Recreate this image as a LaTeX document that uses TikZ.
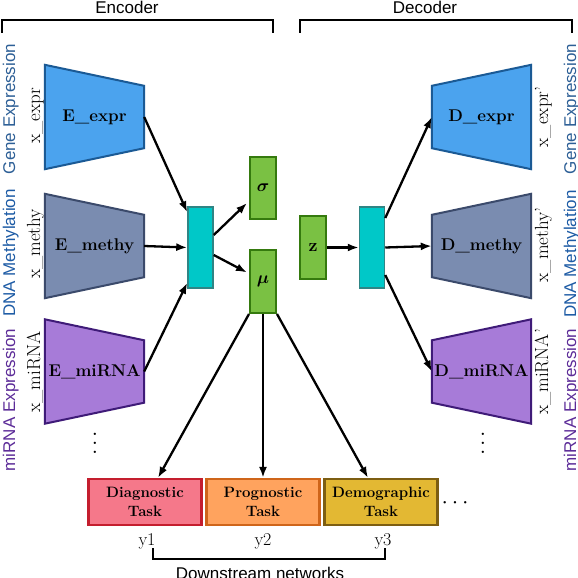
\documentclass[tikz,border=0pt]{standalone}
\usepackage{amsmath,amssymb}
\usepackage{fontspec}
\newfontfamily\labelsans{Liberation Sans}
\usetikzlibrary{arrows.meta,positioning,calc,backgrounds}

\definecolor{exprfill}{HTML}{4BA3EE}
\definecolor{exprdraw}{HTML}{1B5A95}
\definecolor{methyfill}{HTML}{7A8CB0}
\definecolor{methydraw}{HTML}{3B4A6B}
\definecolor{mirnafill}{HTML}{A77BD8}
\definecolor{mirnadraw}{HTML}{3F1B78}
\definecolor{midfill}{HTML}{00C8C8}
\definecolor{middraw}{HTML}{2F8585}
\definecolor{latfill}{HTML}{7AC143}
\definecolor{latdraw}{HTML}{357A0E}
\definecolor{diagfill}{HTML}{F5788A}
\definecolor{diagdraw}{HTML}{C41E2E}
\definecolor{progfill}{HTML}{FFA35E}
\definecolor{progdraw}{HTML}{CF651A}
\definecolor{demofill}{HTML}{E3B833}
\definecolor{demodraw}{HTML}{7D5E12}
\definecolor{genecol}{HTML}{2D5F96}
\definecolor{methycol}{HTML}{1D5BA5}
\definecolor{mirnacol}{HTML}{5C2C98}

\tikzset{
  trap/.style={minimum width=99pt, minimum height=104pt, inner sep=0pt,
    font=\fontsize{17}{20}\selectfont\bfseries},
  mid/.style={draw=middraw, fill=midfill, line width=1.5pt,
    minimum width=25pt, minimum height=81pt, inner sep=0pt},
  lat/.style={draw=latdraw, fill=latfill, line width=2pt,
    minimum width=26pt, minimum height=62pt, inner sep=0pt,
    font=\fontsize{18}{20}\selectfont},
  task/.style={line width=2.2pt, minimum width=113pt, minimum height=46pt,
    inner sep=0pt, align=center, font=\fontsize{15}{19}\selectfont\bfseries},
  side/.style={rotate=90, anchor=base, font=\labelsans\fontsize{17}{20}\selectfont},
  xlab/.style={rotate=90, anchor=base, font=\fontsize{19}{22}\selectfont},
  arr/.style={-{Latex[length=11pt,width=8pt]}, line width=2.3pt},
  bracket/.style={line width=2.2pt},
}

% left-long and right-long trapezia around a node
\newcommand{\enctrap}[2]{%
  \draw[#2, line width=2pt] (#1.north west) -- ([yshift=-21pt]#1.north east)
    -- ([yshift=21pt]#1.south east) -- (#1.south west) -- cycle;}
\newcommand{\dectrap}[2]{%
  \draw[#2, line width=2pt] (#1.north east) -- ([yshift=-21pt]#1.north west)
    -- ([yshift=21pt]#1.south west) -- (#1.south east) -- cycle;}

\begin{document}
\begin{tikzpicture}[x=1pt, y=-1pt]
  \useasboundingbox (0,0) rectangle (578,578);

  % Brackets on top
  \coordinate (encl) at (2,33);
  \coordinate (encr) at (273,33);
  \coordinate (decl) at (300,33);
  \coordinate (decr) at (572,33);
  \draw[bracket] (encl) -- (encl|-0,20) -- (encr|-0,20) -- (encr);
  \draw[bracket] (decl) -- (decl|-0,20) -- (decr|-0,20) -- (decr);
  \node[anchor=base, font=\labelsans\fontsize{17}{20}\selectfont] (enctxt) at (127,14) {Encoder};
  \node[anchor=base, font=\labelsans\fontsize{17}{20}\selectfont] (dectxt) at (425,14) {Decoder};

  % Encoder inputs
  \node[trap] (Eexpr) at (94.5,117) {E\_expr};
  \node[trap] (Emethy) at (94.5,246) {E\_methy};
  \node[trap] (Emirna) at (94.5,371.5) {E\_miRNA};
  \begin{pgfonlayer}{background}
    \enctrap{Eexpr}{draw=exprdraw, fill=exprfill}
    \enctrap{Emethy}{draw=methydraw, fill=methyfill}
    \enctrap{Emirna}{draw=mirnadraw, fill=mirnafill}
  \end{pgfonlayer}
  \node[xlab] (xexpr) at (40,116) {x\_expr};
  \node[xlab] (xmethy) at (40,244) {x\_methy};
  \node[xlab] (xmirna) at (40,372) {x\_miRNA};
  \node[side, text=genecol] (geneL) at (15,109) {Gene Expression};
  \node[side, text=methycol] (methyL) at (15,253) {DNA Methylation};
  \node[side, text=mirnacol] (mirnaL) at (15,400) {miRNA Expression};
  \node[scale=2.2] (vdotL) at (95,437) {$\vdots$};

  % Latent part
  \node[mid] (encmid) at (200.5,247.5) {};
  \node[lat] (sigma) at (263,188) {$\boldsymbol{\sigma}$};
  \node[lat, minimum height=63pt] (mu) at (263,281.5) {$\boldsymbol{\mu}$};
  \node[lat, minimum height=63pt] (z) at (313,247.5) {\textbf{z}};
  \node[mid] (decmid) at (372,247.5) {};

  % Decoder outputs
  \node[trap] (Dexpr) at (481.5,117) {D\_expr};
  \node[trap] (Dmethy) at (481.5,246) {D\_methy};
  \node[trap] (Dmirna) at (481.5,371.5) {D\_miRNA};
  \begin{pgfonlayer}{background}
    \dectrap{Dexpr}{draw=exprdraw, fill=exprfill}
    \dectrap{Dmethy}{draw=methydraw, fill=methyfill}
    \dectrap{Dmirna}{draw=mirnadraw, fill=mirnafill}
  \end{pgfonlayer}
  \node[xlab] (xexprR) at (548,117) {x\_expr'};
  \node[xlab] (xmethyR) at (548,245) {x\_methy'};
  \node[xlab] (xmirnaR) at (548,372) {x\_miRNA'};
  \node[side, text=genecol] (geneR) at (576,109) {Gene Expression};
  \node[side, text=methycol] (methyR) at (576,254) {DNA Methylation};
  \node[side, text=mirnacol] (mirnaR) at (576,400) {miRNA Expression};
  \node[scale=2.2] (vdotR) at (483,437) {$\vdots$};

  % Tasks
  \node[task, draw=diagdraw, fill=diagfill] (diag) at (145,502) {Diagnostic\\Task};
  \node[task, draw=progdraw, fill=progfill] (prog) at (263,502) {Prognostic\\Task};
  \node[task, draw=demodraw, fill=demofill] (demo) at (381,502) {Demographic\\Task};
  \node[scale=1.6, font=\fontsize{14}{16}\selectfont] (hdots) at (457,503) {$\cdots$};
  \node[anchor=base, font=\fontsize{18}{20}\selectfont] (y1) at (147,545) {y1};
  \node[anchor=base, font=\fontsize{18}{20}\selectfont] (y2) at (263,545) {y2};
  \node[anchor=base, font=\fontsize{18}{20}\selectfont] (y3) at (383,545) {y3};
  \coordinate (dsl) at (153,548);
  \coordinate (dsr) at (385,548);
  \draw[bracket] (dsl) -- (dsl|-0,559) -- (dsr|-0,559) -- (dsr);
  \node[anchor=base, font=\labelsans\fontsize{17}{20}\selectfont] (dstxt) at (260,579) {Downstream networks};

  % Arrows
  \draw[arr] (Eexpr.east) -- ([yshift=-6pt]encmid.north west);
  \draw[arr] (Emethy.east) -- (encmid.west);
  \draw[arr] (Emirna.east) -- ([yshift=6pt]encmid.south west);
  \draw[arr] ([yshift=12.5pt]encmid.east) -- ([xshift=-2pt, yshift=-15pt]sigma.west);
  \draw[arr] ([yshift=-7.5pt]encmid.east) -- ([xshift=-2pt, yshift=9pt]mu.west);
  \draw[arr] (z.east) -- (decmid.west);
  \draw[arr] ([yshift=29.5pt]decmid.east) -- (Dexpr.west);
  \draw[arr] (decmid.east) -- (Dmethy.west);
  \draw[arr] ([yshift=-27.5pt]decmid.east) -- (Dmirna.west);
  \draw[arr] (mu.south west) -- ([xshift=13pt]diag.north);
  \draw[arr] (mu.south) -- (prog.north);
  \draw[arr] (mu.south east) -- ([xshift=-13pt]demo.north);
\end{tikzpicture}
\end{document}
